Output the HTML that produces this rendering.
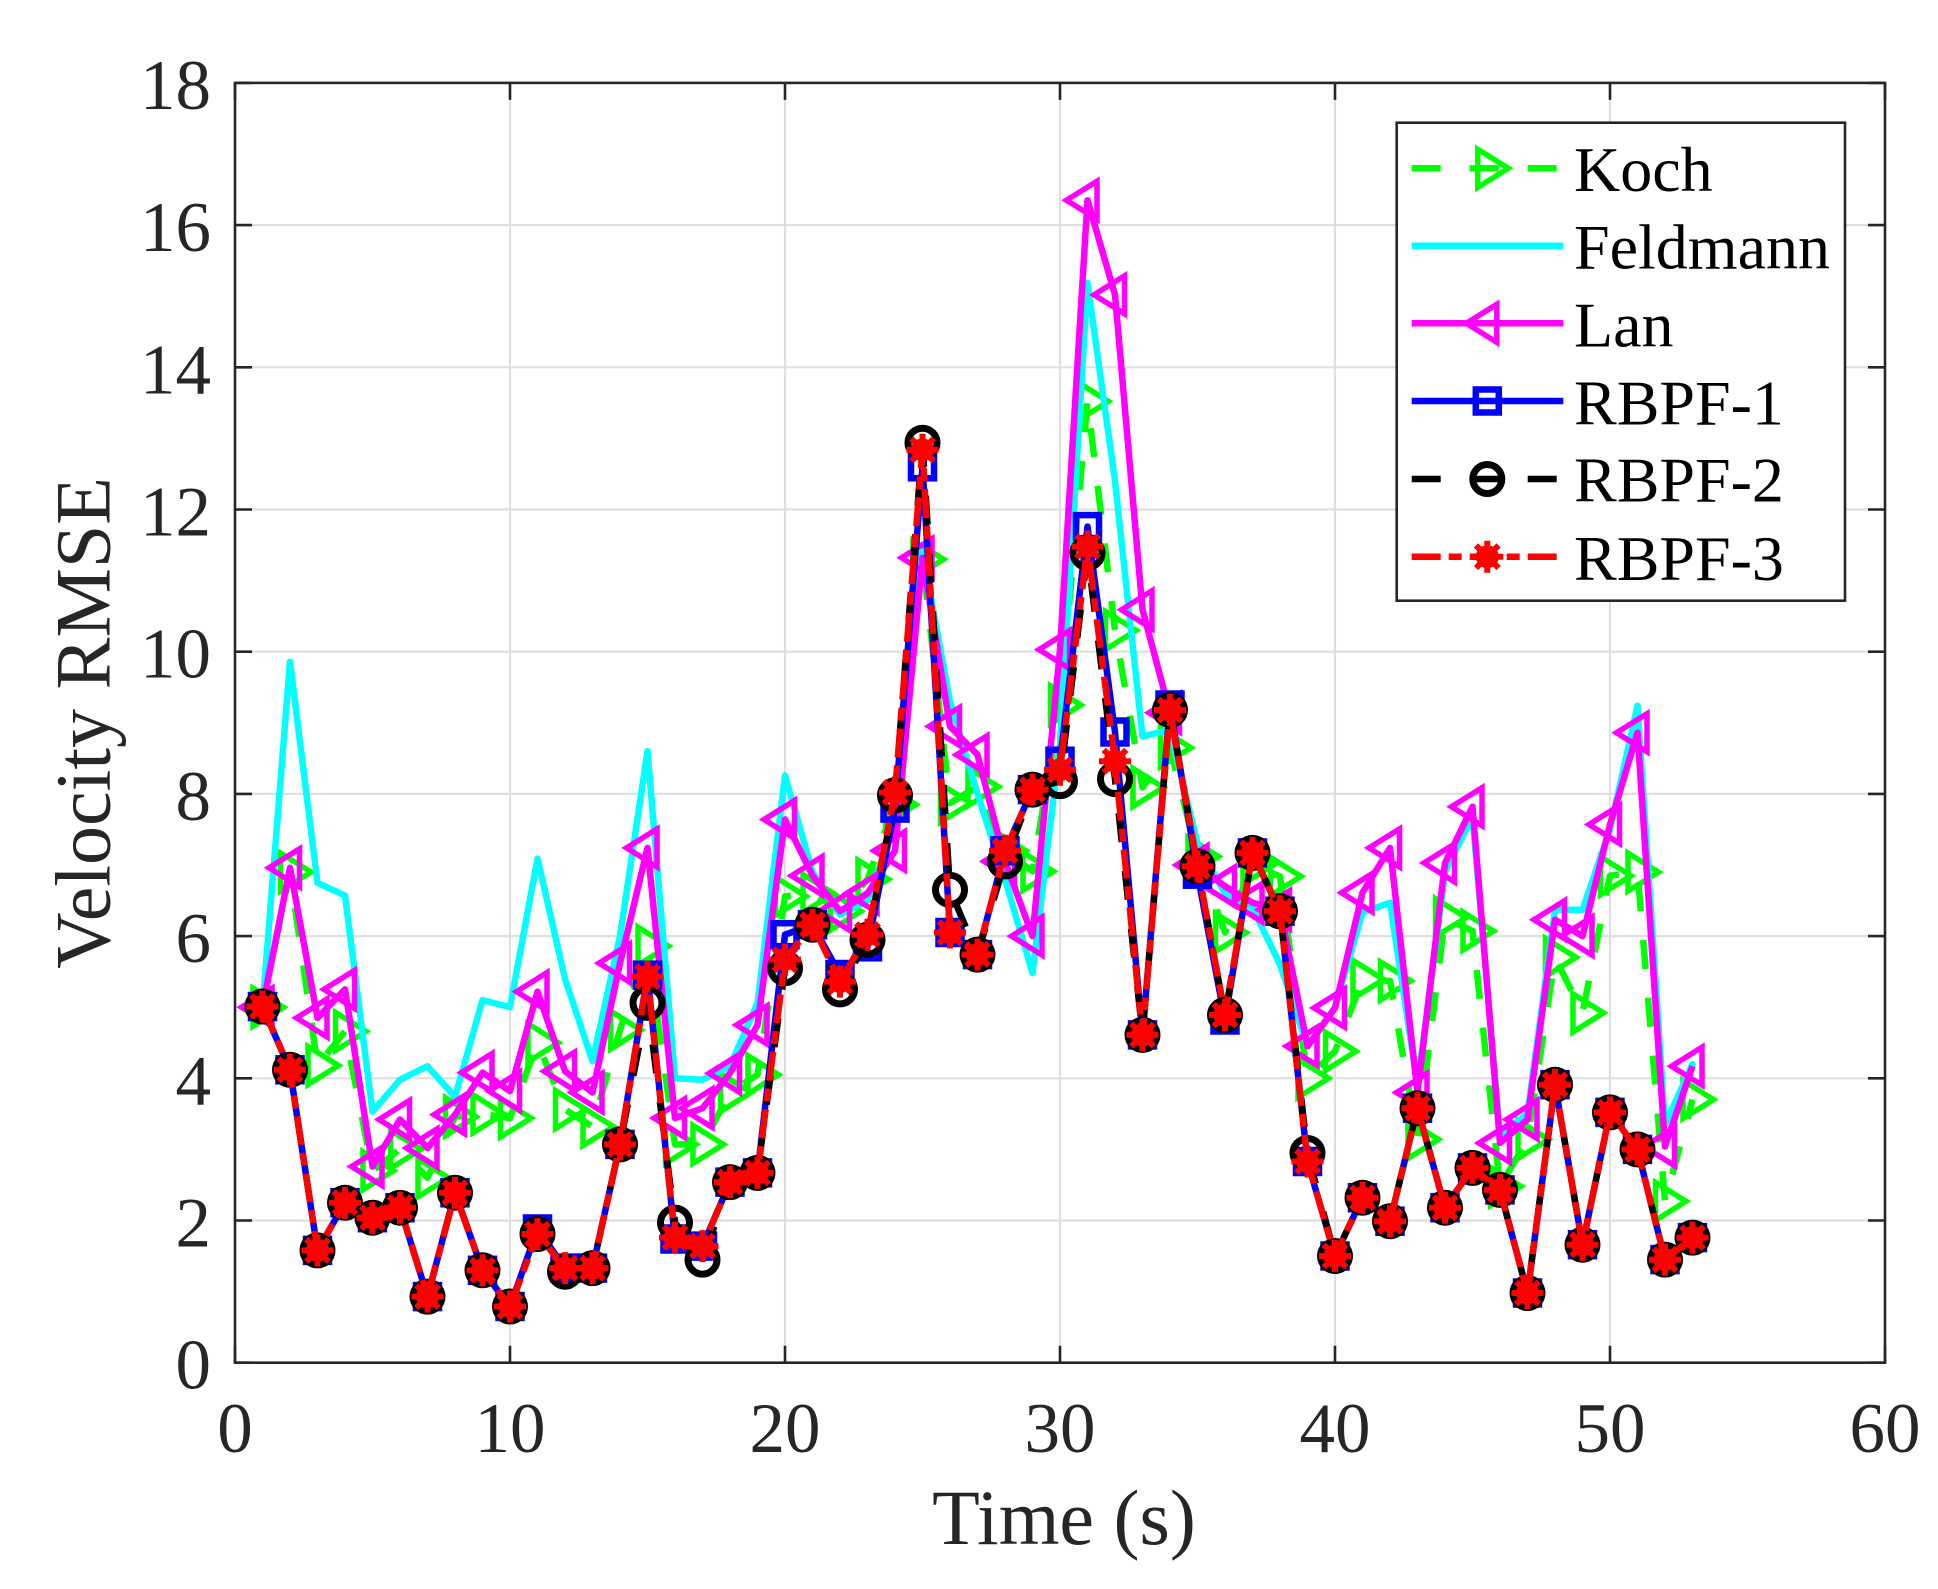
<!DOCTYPE html>
<html>
<head>
<meta charset="utf-8">
<style>
html,body{margin:0;padding:0;background:#fff;}
svg{display:block;}
</style>
</head>
<body>
<svg width="1938" height="1589" viewBox="0 0 1938 1589" xmlns="http://www.w3.org/2000/svg">
<defs>
<marker id="mg" markerUnits="userSpaceOnUse" viewBox="-40 -40 80 80" markerWidth="80" markerHeight="80" refX="0" refY="0" orient="0" style="overflow:visible">
<path d="M-9.5,-19 L21,0 L-9.5,19 Z" fill="none" stroke="#00ff00" stroke-width="5.5" stroke-linejoin="miter"/>
</marker>
<marker id="mm" markerUnits="userSpaceOnUse" viewBox="-40 -40 80 80" markerWidth="80" markerHeight="80" refX="0" refY="0" orient="0" style="overflow:visible">
<path d="M9.5,-19 L-21,0 L9.5,19 Z" fill="none" stroke="#ff00ff" stroke-width="5.5" stroke-linejoin="miter"/>
</marker>
<marker id="mb" markerUnits="userSpaceOnUse" viewBox="-40 -40 80 80" markerWidth="80" markerHeight="80" refX="0" refY="0" orient="0" style="overflow:visible">
<rect x="-11.5" y="-11.5" width="23" height="23" fill="none" stroke="#0000ff" stroke-width="6.5"/>
</marker>
<marker id="mk" markerUnits="userSpaceOnUse" viewBox="-40 -40 80 80" markerWidth="80" markerHeight="80" refX="0" refY="0" orient="0" style="overflow:visible">
<circle cx="0" cy="0" r="14.5" fill="none" stroke="#000000" stroke-width="7"/>
</marker>
<marker id="mr" markerUnits="userSpaceOnUse" viewBox="-40 -40 80 80" markerWidth="80" markerHeight="80" refX="0" refY="0" orient="0" style="overflow:visible">
<circle cx="0" cy="0" r="11.5" fill="#ff0000"/>
<path d="M-16,0 L16,0 M0,-16 L0,16 M-11.3,-11.3 L11.3,11.3 M-11.3,11.3 L11.3,-11.3" stroke="#ff0000" stroke-width="6" fill="none"/>
</marker>
</defs>

<rect x="0" y="0" width="1938" height="1589" fill="#ffffff"/>

<!-- grid -->
<g stroke="#dfdfdf" stroke-width="2.2" fill="none">
<path d="M510,82.9 V1362.7 M785,82.9 V1362.7 M1060,82.9 V1362.7 M1335,82.9 V1362.7 M1610,82.9 V1362.7"/>
<path d="M235,1220.5 H1885 M235,1078.3 H1885 M235,936.1 H1885 M235,793.9 H1885 M235,651.7 H1885 M235,509.5 H1885 M235,367.3 H1885 M235,225.1 H1885"/>
</g>

<!-- series -->
<g fill="none" stroke-width="6.5" stroke-linejoin="round">
<polyline stroke="#00ff00" stroke-dasharray="29 29" marker-start="url(#mg)" marker-mid="url(#mg)" marker-end="url(#mg)" points="262.5,1007.2 290,872.1 317.5,1065.5 345,1031.4 372.5,1170.7 400,1149.4 427.5,1177.8 455,1116.7 482.5,1113.8 510,1118.1 537.5,1042.7 565,1109.6 592.5,1126.6 620,1030 647.5,946.1 675,1144.4 702.5,1144.4 730,1092.5 757.5,1074.7 785,896.3 812.5,893.4 840,911.2 867.5,879.2 895,804.6 922.5,559.3 950,803.1 977.5,786.8 1005,850.8 1032.5,871.4 1060,705 1087.5,401.4 1115,630.4 1142.5,787.5 1170,747.7 1197.5,856.5 1225,932.5 1252.5,865 1280,876.4 1307.5,1078.3 1335,1051.3 1362.5,979.5 1390,980.9 1417.5,1139.4 1445,917.6 1472.5,931.1 1500,1186.4 1527.5,1139.4 1555,957.4 1582.5,1012.9 1610,875.7 1637.5,872.1 1665,1201.3 1692.5,1099.6"/>

<polyline stroke="#00ffff" stroke-linecap="round" points="262.5,1007.2 290,661.7 317.5,882.8 345,895.6 372.5,1111.7 400,1079.7 427.5,1066.2 455,1096.8 482.5,1000.1 510,1007.2 537.5,858.6 565,978.8 592.5,1061.2 620,936.1 647.5,751.2 675,1078.3 702.5,1079.7 730,1066.2 757.5,1002.9 785,775.4 812.5,872.1 840,914.8 867.5,900.5 895,822.3 922.5,552.2 950,701.5 977.5,793.9 1005,879.2 1032.5,973.1 1060,744.1 1087.5,282.7 1115,481.1 1142.5,736.3 1170,729.9 1197.5,843.7 1225,893.4 1252.5,907.7 1280,964.5 1307.5,1046.3 1335,1007.2 1362.5,912.6 1390,902.7 1417.5,1085.4 1445,872.1 1472.5,816.7 1500,1135.2 1527.5,1113.8 1555,909.8 1582.5,909.8 1610,829.4 1637.5,705.7 1665,1124.5 1692.5,1064.1"/>

<polyline stroke="#ff00ff" marker-start="url(#mm)" marker-mid="url(#mm)" marker-end="url(#mm)" points="262.5,1007.2 290,867.8 317.5,1017.9 345,989.4 372.5,1166.5 400,1119.5 427.5,1148 455,1114.6 482.5,1072.6 510,1091.1 537.5,991.6 565,1071.2 592.5,1092.5 620,963.1 647.5,847.9 675,1118.1 702.5,1108.2 730,1073.3 757.5,1025 785,819.5 812.5,875.7 840,911.2 867.5,893.4 895,850.8 922.5,557.8 950,726.4 977.5,754.8 1005,861.4 1032.5,936.1 1060,649.6 1087.5,200.2 1115,294.8 1142.5,609.7 1170,712.8 1197.5,865 1225,886.3 1252.5,902.7 1280,909.8 1307.5,1046.3 1335,1007.9 1362.5,892.7 1390,847.9 1417.5,1092.5 1445,862.9 1472.5,806.7 1500,1143 1527.5,1119.5 1555,919.7 1582.5,936.1 1610,824.5 1637.5,732.7 1665,1146.6 1692.5,1066.2"/>

<polyline stroke="#0000ff" marker-start="url(#mb)" marker-mid="url(#mb)" marker-end="url(#mb)" points="262.5,1006.5 290,1069.8 317.5,1250.4 345,1202.7 372.5,1217.7 400,1207.7 427.5,1296.6 455,1192.8 482.5,1270.3 510,1306.5 537.5,1229 565,1268.1 592.5,1268.1 620,1144.4 647.5,975.2 675,1239 702.5,1246.1 730,1182.1 757.5,1172.9 785,934.7 812.5,924.7 840,974.5 867.5,946.8 895,808.1 922.5,466.8 950,932.5 977.5,954.6 1005,850.8 1032.5,789.6 1060,761.2 1087.5,526.6 1115,732 1142.5,1034.9 1170,705 1197.5,874.2 1225,1020 1252.5,852.9 1280,911.2 1307.5,1161.5 1335,1256 1362.5,1197.7 1390,1221.2 1417.5,1108.2 1445,1207.7 1472.5,1167.9 1500,1189.9 1527.5,1293 1555,1084.7 1582.5,1244.7 1610,1112.4 1637.5,1149.4 1665,1259.6 1692.5,1237.6"/>

<polyline stroke="#000000" stroke-dasharray="29 29" marker-start="url(#mk)" marker-mid="url(#mk)" marker-end="url(#mk)" points="262.5,1006.5 290,1069.8 317.5,1250.4 345,1202.7 372.5,1217.7 400,1207.7 427.5,1296.6 455,1192.8 482.5,1270.3 510,1306.5 537.5,1234 565,1271.7 592.5,1268.1 620,1144.4 647.5,1002.9 675,1222.6 702.5,1259.6 730,1182.1 757.5,1172.9 785,968.1 812.5,924.7 840,989.4 867.5,939.7 895,795.3 922.5,442.7 950,889.9 977.5,954.6 1005,861.4 1032.5,789.6 1060,781.1 1087.5,552.9 1115,779 1142.5,1034.9 1170,710 1197.5,866.4 1225,1015 1252.5,852.9 1280,911.2 1307.5,1153 1335,1256 1362.5,1197.7 1390,1221.2 1417.5,1108.2 1445,1207.7 1472.5,1167.9 1500,1189.9 1527.5,1293 1555,1084.7 1582.5,1244.7 1610,1112.4 1637.5,1149.4 1665,1259.6 1692.5,1237.6"/>

<polyline stroke="#ff0000" stroke-dasharray="29 8 13 8" marker-start="url(#mr)" marker-mid="url(#mr)" marker-end="url(#mr)" points="262.5,1006.5 290,1069.8 317.5,1250.4 345,1202.7 372.5,1217.7 400,1207.7 427.5,1296.6 455,1192.8 482.5,1270.3 510,1306.5 537.5,1234 565,1268.1 592.5,1268.1 620,1144.4 647.5,976.6 675,1237.6 702.5,1246.1 730,1182.1 757.5,1172.9 785,959.6 812.5,924.7 840,981.6 867.5,934.7 895,792.5 922.5,449.8 950,932.5 977.5,954.6 1005,850.8 1032.5,789.6 1060,769.7 1087.5,546.5 1115,761.2 1142.5,1034.9 1170,710 1197.5,866.4 1225,1015 1252.5,852.9 1280,911.2 1307.5,1161.5 1335,1256 1362.5,1197.7 1390,1221.2 1417.5,1108.2 1445,1207.7 1472.5,1167.9 1500,1189.9 1527.5,1293 1555,1084.7 1582.5,1244.7 1610,1112.4 1637.5,1149.4 1665,1259.6 1692.5,1237.6"/>
</g>

<!-- axes box and ticks -->
<g stroke="#262626" stroke-width="2.6" fill="none">
<rect x="235" y="82.9" width="1650" height="1279.8"/>
<path d="M235,1362.7 v-17 M510,1362.7 v-17 M785,1362.7 v-17 M1060,1362.7 v-17 M1335,1362.7 v-17 M1610,1362.7 v-17 M1885,1362.7 v-17
M235,82.9 v17 M510,82.9 v17 M785,82.9 v17 M1060,82.9 v17 M1335,82.9 v17 M1610,82.9 v17 M1885,82.9 v17
M235,1362.7 h17 M235,1220.5 h17 M235,1078.3 h17 M235,936.1 h17 M235,793.9 h17 M235,651.7 h17 M235,509.5 h17 M235,367.3 h17 M235,225.1 h17 M235,82.9 h17
M1885,1362.7 h-17 M1885,1220.5 h-17 M1885,1078.3 h-17 M1885,936.1 h-17 M1885,793.9 h-17 M1885,651.7 h-17 M1885,509.5 h-17 M1885,367.3 h-17 M1885,225.1 h-17 M1885,82.9 h-17"/>
</g>

<!-- tick labels -->
<g font-family="'Liberation Serif', 'Times New Roman', serif" font-size="71" fill="#262626">
<g text-anchor="end">
<text x="211" y="1388.7">0</text>
<text x="211" y="1246.5">2</text>
<text x="211" y="1104.3">4</text>
<text x="211" y="962.1">6</text>
<text x="211" y="819.9">8</text>
<text x="211" y="677.7">10</text>
<text x="211" y="535.5">12</text>
<text x="211" y="393.3">14</text>
<text x="211" y="251.1">16</text>
<text x="211" y="108.9">18</text>
</g>
<g text-anchor="middle">
<text x="235" y="1452">0</text>
<text x="510" y="1452">10</text>
<text x="785" y="1452">20</text>
<text x="1060" y="1452">30</text>
<text x="1335" y="1452">40</text>
<text x="1610" y="1452">50</text>
<text x="1885" y="1452">60</text>
</g>
</g>

<!-- axis labels -->
<g font-family="'Liberation Serif', 'Times New Roman', serif" font-size="78" fill="#262626" text-anchor="middle">
<text x="1064" y="1544">Time (s)</text>
<text transform="translate(109.5,723) rotate(-90)" x="0" y="0">Velocity RMSE</text>
</g>

<!-- legend -->
<rect x="1396.7" y="122.7" width="448.3" height="478" fill="#ffffff" stroke="#262626" stroke-width="2.6"/>
<g fill="none" stroke-width="6.5">
<line x1="1411.7" y1="168.3" x2="1563.3" y2="168.3" stroke="#00ff00" stroke-dasharray="29 29"/>
<path transform="translate(1487.3,168.3)" d="M-9.5,-19 L21,0 L-9.5,19 Z" stroke="#00ff00" stroke-width="5.5"/>
<line x1="1411.7" y1="245.7" x2="1563.3" y2="245.7" stroke="#00ffff"/>
<line x1="1411.7" y1="323.3" x2="1563.3" y2="323.3" stroke="#ff00ff"/>
<path transform="translate(1487.3,323.3)" d="M9.5,-19 L-21,0 L9.5,19 Z" stroke="#ff00ff" stroke-width="5.5"/>
<line x1="1411.7" y1="401" x2="1563.3" y2="401" stroke="#0000ff"/>
<rect x="1475.8" y="389.5" width="23" height="23" stroke="#0000ff" stroke-width="6.5"/>
<line x1="1411.7" y1="479" x2="1563.3" y2="479" stroke="#000000" stroke-dasharray="29 29"/>
<circle cx="1487.3" cy="479" r="14.5" stroke="#000000" stroke-width="7"/>
<line x1="1411.7" y1="556.7" x2="1563.3" y2="556.7" stroke="#ff0000" stroke-dasharray="29 8 13 8"/>
<g transform="translate(1487.3,556.7)">
<circle cx="0" cy="0" r="11.5" fill="#ff0000" stroke="none"/>
<path d="M-16,0 L16,0 M0,-16 L0,16 M-11.3,-11.3 L11.3,11.3 M-11.3,11.3 L11.3,-11.3" stroke="#ff0000" stroke-width="6"/>
</g>
</g>
<g font-family="'Liberation Serif', 'Times New Roman', serif" font-size="64" fill="#000000">
<text x="1574" y="191">Koch</text>
<text x="1574" y="268.3">Feldmann</text>
<text x="1574" y="346.7">Lan</text>
<text x="1574" y="424.3">RBPF-1</text>
<text x="1574" y="501.7">RBPF-2</text>
<text x="1574" y="580">RBPF-3</text>
</g>
</svg>
</body>
</html>
